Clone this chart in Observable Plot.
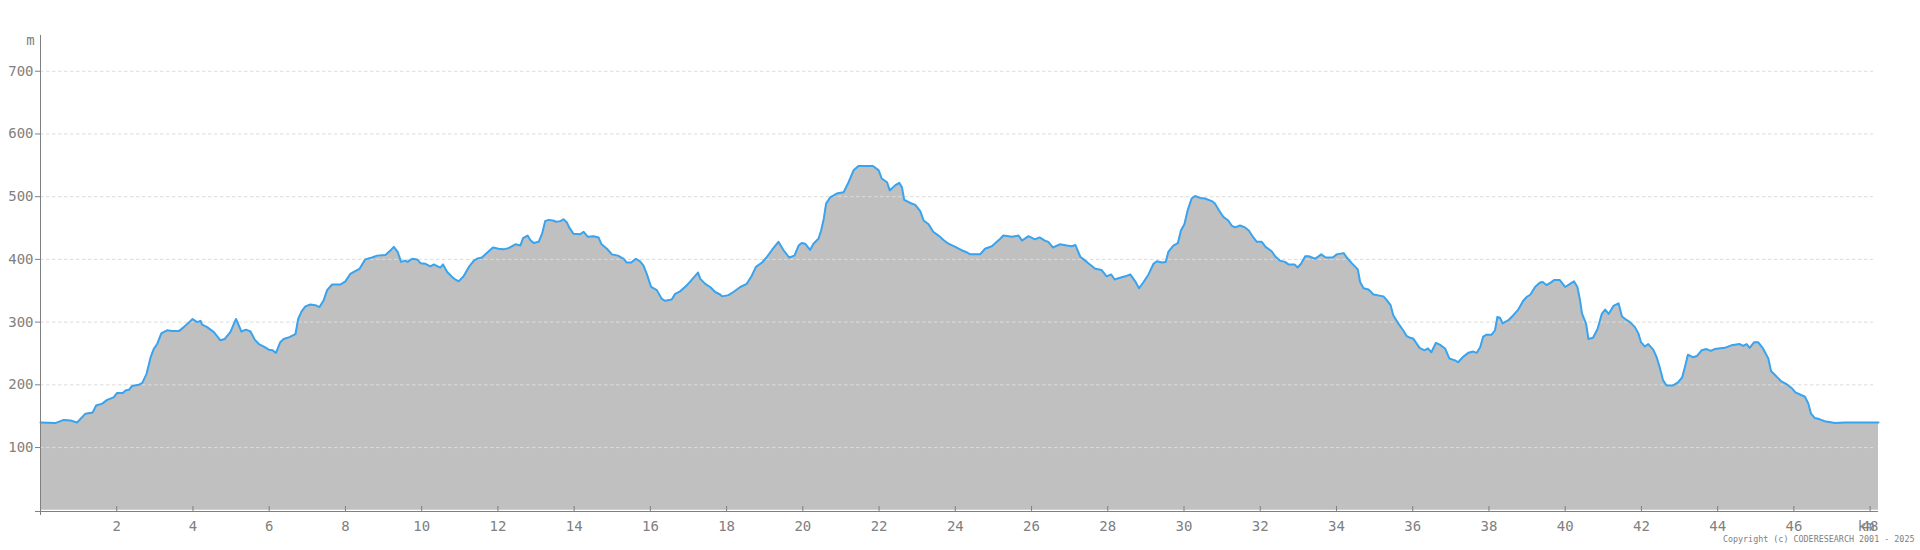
<!DOCTYPE html>
<html>
<head>
<meta charset="utf-8">
<script src="https://cdn.jsdelivr.net/npm/d3@7"></script>
<script src="https://cdn.jsdelivr.net/npm/@observablehq/plot@0.6"></script>
<style>
  html, body { margin: 0; padding: 0; background: #fff; }
  #chart svg { display: block; }
</style>
</head>
<body>
<div id="chart"></div>
<script>
// Distance along the route (km)
const distanceKm = [
  0, 0.39, 0.61, 0.79, 0.96, 1.18, 1.37, 1.46, 1.62, 1.75, 1.92, 2.01, 2.16, 2.23, 2.32, 2.40, 2.58, 2.67, 2.78, 2.89,
  2.97, 3.06, 3.17, 3.32, 3.45, 3.64, 3.76, 3.87, 3.99, 4.11, 4.20, 4.24, 4.37, 4.55, 4.72, 4.83, 4.98, 5.13, 5.27, 5.39,
  5.51, 5.62, 5.73, 5.86, 5.99, 6.09, 6.18, 6.29, 6.38, 6.53, 6.69, 6.76, 6.85, 6.95, 7.08, 7.21, 7.32, 7.43, 7.52, 7.65,
  7.87, 8.00, 8.13, 8.22, 8.37, 8.52, 8.70, 8.83, 9.05, 9.18, 9.27, 9.37, 9.46, 9.57, 9.63, 9.75, 9.88, 9.97, 10.10, 10.23,
  10.32, 10.42, 10.49, 10.56, 10.67, 10.80, 10.88, 10.97, 11.10, 11.24, 11.37, 11.45, 11.58, 11.71, 11.87, 12.02, 12.15, 12.28, 12.46, 12.59,
  12.66, 12.78, 12.85, 12.94, 13.07, 13.16, 13.24, 13.33, 13.44, 13.53, 13.64, 13.72, 13.81, 13.87, 13.98, 14.16, 14.25, 14.36, 14.51, 14.64,
  14.72, 14.86, 14.99, 15.15, 15.30, 15.38, 15.50, 15.62, 15.73, 15.82, 15.91, 16.02, 16.17, 16.30, 16.39, 16.56, 16.65, 16.78, 16.93, 17.05,
  17.18, 17.25, 17.31, 17.44, 17.57, 17.70, 17.83, 17.88, 18.05, 18.18, 18.36, 18.53, 18.66, 18.77, 18.93, 19.06, 19.19, 19.36, 19.49, 19.64,
  19.78, 19.89, 19.97, 20.06, 20.19, 20.28, 20.41, 20.48, 20.55, 20.61, 20.72, 20.89, 21.07, 21.20, 21.33, 21.46, 21.84, 21.99, 22.07, 22.21,
  22.28, 22.42, 22.53, 22.60, 22.66, 22.82, 22.95, 23.08, 23.17, 23.30, 23.42, 23.56, 23.69, 23.82, 24.00, 24.15, 24.31, 24.39, 24.65, 24.78,
  24.96, 25.09, 25.18, 25.26, 25.40, 25.48, 25.66, 25.75, 25.92, 26.09, 26.21, 26.35, 26.44, 26.56, 26.74, 26.93, 27.06, 27.15, 27.28, 27.45,
  27.67, 27.84, 27.97, 28.09, 28.18, 28.28, 28.46, 28.59, 28.72, 28.82, 28.94, 29.07, 29.20, 29.29, 29.42, 29.52, 29.59, 29.72, 29.84, 29.92,
  30.01, 30.10, 30.20, 30.29, 30.42, 30.55, 30.73, 30.81, 30.92, 31.03, 31.16, 31.25, 31.34, 31.47, 31.60, 31.70, 31.82, 31.91, 32.04, 32.14,
  32.30, 32.39, 32.52, 32.65, 32.74, 32.90, 32.98, 33.07, 33.18, 33.27, 33.44, 33.60, 33.72, 33.90, 34.01, 34.19, 34.27, 34.40, 34.56, 34.62,
  34.71, 34.84, 34.97, 35.23, 35.32, 35.42, 35.49, 35.62, 35.75, 35.84, 35.93, 36.01, 36.18, 36.31, 36.40, 36.49, 36.61, 36.71, 36.85, 36.96,
  37.11, 37.19, 37.33, 37.46, 37.59, 37.68, 37.77, 37.85, 37.94, 38.07, 38.16, 38.22, 38.29, 38.36, 38.51, 38.64, 38.77, 38.90, 38.99, 39.09,
  39.21, 39.34, 39.41, 39.51, 39.62, 39.71, 39.86, 40.00, 40.13, 40.23, 40.32, 40.39, 40.44, 40.55, 40.61, 40.73, 40.85, 40.96, 41.05, 41.14,
  41.27, 41.40, 41.49, 41.62, 41.70, 41.83, 41.92, 41.99, 42.09, 42.18, 42.31, 42.40, 42.48, 42.57, 42.66, 42.83, 42.96, 43.07, 43.14, 43.22,
  43.35, 43.46, 43.58, 43.71, 43.82, 43.92, 44.19, 44.36, 44.58, 44.67, 44.76, 44.84, 44.96, 45.06, 45.19, 45.33, 45.40, 45.55, 45.66, 45.81,
  45.94, 46.04, 46.29, 46.38, 46.45, 46.55, 46.68, 46.81, 47.08, 47.34, 48.22
];

// Elevation (m)
const elevationM = [
  140, 139, 144, 143, 140, 154, 156, 167, 170, 176, 180, 187, 187, 191, 192, 198, 200, 203, 217, 244,
  257, 265, 282, 287, 286, 286, 292, 298, 305, 300, 302, 296, 292, 284, 271, 273, 284, 305, 285, 288,
  285, 272, 265, 261, 256, 255, 251, 268, 273, 276, 281, 305, 317, 325, 328, 327, 324, 335, 351, 360,
  360, 365, 377, 380, 385, 400, 403, 406, 407, 414, 420, 412, 396, 398, 396, 401, 400, 394, 393, 389,
  392, 389, 387, 392, 380, 372, 368, 365, 373, 388, 398, 401, 403, 410, 419, 417, 416, 418, 424, 422,
  434, 438, 431, 426, 428, 441, 461, 463, 462, 460, 461, 464, 459, 451, 441, 440, 444, 436, 437, 435,
  424, 417, 408, 406, 401, 395, 395, 401, 397, 390, 376, 356, 351, 337, 334, 336, 345, 349, 357, 365,
  374, 379, 369, 361, 356, 348, 344, 341, 343, 348, 356, 361, 374, 388, 395, 404, 415, 428, 415, 403,
  406, 422, 426, 425, 415, 425, 433, 446, 465, 489, 499, 505, 507, 523, 542, 549, 549, 542, 529, 523,
  510, 518, 522, 515, 495, 490, 487, 477, 462, 456, 444, 438, 431, 425, 420, 415, 411, 408, 408, 417,
  421, 428, 433, 438, 437, 436, 438, 430, 437, 432, 435, 430, 428, 419, 424, 422, 421, 423, 404, 396,
  385, 383, 373, 376, 368, 370, 373, 376, 365, 354, 364, 376, 393, 397, 395, 396, 412, 422, 426, 446,
  456, 479, 497, 501, 498, 497, 493, 489, 478, 468, 462, 454, 451, 454, 451, 446, 435, 428, 428, 420,
  413, 405, 398, 396, 392, 392, 387, 393, 405, 405, 401, 408, 403, 403, 408, 410, 403, 394, 384, 364,
  354, 352, 344, 341, 335, 327, 311, 298, 287, 278, 275, 274, 259, 255, 258, 252, 267, 264, 258, 242,
  239, 236, 245, 251, 253, 251, 260, 277, 280, 280, 287, 308, 307, 298, 303, 311, 320, 334, 340, 344,
  356, 363, 364, 359, 363, 367, 367, 356, 361, 365, 356, 335, 314, 297, 273, 275, 289, 313, 320, 313,
  326, 330, 309, 303, 300, 292, 282, 268, 261, 265, 256, 244, 228, 207, 199, 199, 204, 212, 228, 248,
  244, 246, 255, 257, 254, 257, 259, 263, 265, 262, 265, 259, 268, 268, 258, 242, 222, 213, 206, 201,
  195, 188, 181, 170, 154, 147, 145, 142, 139, 140, 140
];

// Tick values
const yTicks = [100, 200, 300, 400, 500, 600, 700];
const xTicks = [2, 4, 6, 8, 10, 12, 14, 16, 18, 20, 22, 24, 26, 28, 30, 32, 34, 36, 38, 40, 42, 44, 46, 48];
const yUnit = "m";
const xUnit = "km";
const copyright = "Copyright (c) CODERESEARCH 2001 - 2025";

const profile = distanceKm.map((km, i) => ({km, m: elevationM[i]}));

const W = 1920, H = 550;
const mt = 35, mb = 39, ml = 40, mr = 42;
const frameH = H - mt - mb;

const chart = Plot.plot({
  width: W,
  height: H,
  marginTop: mt,
  marginBottom: mb,
  marginLeft: ml,
  marginRight: mr,
  style: {fontFamily: "'DejaVu Sans Mono', monospace", fontSize: "14px", color: "#808080", background: "#fff"},
  x: {domain: [0, d3.max(distanceKm)], axis: null},
  y: {domain: [-2, 757], axis: null},
  marks: [
    Plot.areaY(profile, {x: "km", y: "m", fill: "#c0c0c0"}),
    Plot.ruleY(yTicks, {stroke: "#dcdcdc", strokeDasharray: "3.5,2.5", strokeWidth: 1, insetRight: 5}),
    Plot.lineY(profile, {x: "km", y: "m", stroke: "#38a4f0", strokeWidth: 2}),
    // axis lines
    Plot.ruleX([0], {stroke: "#808080", strokeWidth: 1}),
    Plot.ruleY([-2], {stroke: "#808080", strokeWidth: 1}),
    // y axis ticks and labels
    Plot.axisY({ticks: [-2, ...yTicks], tickSize: 5, tickPadding: 2, tickFormat: d => d < 0 ? "" : String(d), stroke: "#808080", fill: "#808080", fontSize: 14, label: null}),
    // x ticks (upward), and origin tick (downward)
    Plot.ruleX(xTicks, {stroke: "#808080", strokeWidth: 1, insetTop: frameH - 5}),
    Plot.axisX({ticks: [0], tickSize: 4, tickFormat: () => "", stroke: "#808080", label: null}),
    Plot.axisX({ticks: xTicks, tickSize: 0, tickPadding: 10, fill: "#808080", fontSize: 14, label: null}),
    // unit labels
    Plot.text([yUnit], {frameAnchor: "top-left", dx: -10, dy: 0, lineAnchor: "top", textAnchor: "middle", fill: "#808080", fontSize: 14}),
    Plot.text([xUnit], {frameAnchor: "bottom-right", dx: -4, dy: 10, lineAnchor: "top", textAnchor: "end", fill: "#808080", fontSize: 14}),
    Plot.text([copyright], {frameAnchor: "bottom-right", dx: 36, dy: 30, textAnchor: "end", fill: "#808080", fontSize: 8.4})
  ]
});

document.getElementById("chart").append(chart);
</script>
</body>
</html>
